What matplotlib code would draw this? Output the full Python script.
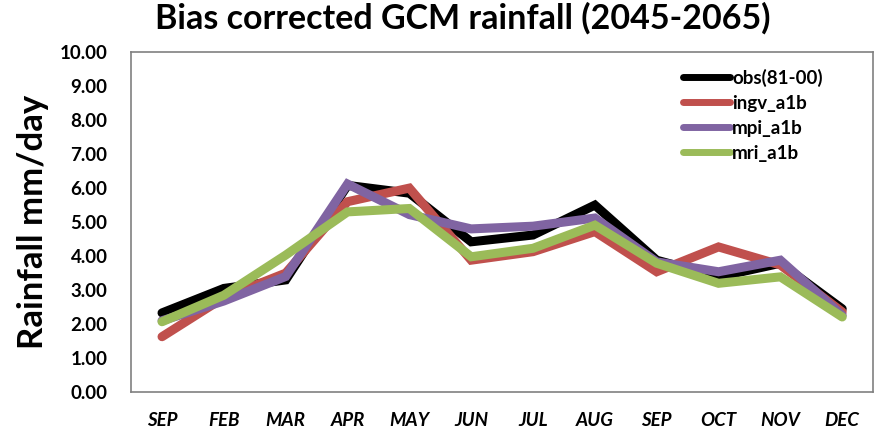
import matplotlib
matplotlib.use("Agg")
import matplotlib.pyplot as plt
import numpy as np

months = ["SEP", "FEB", "MAR", "APR", "MAY", "JUN", "JUL", "AUG", "SEP", "OCT", "NOV", "DEC"]

obs = [2.33, 3.05, 3.30, 6.08, 5.85, 4.42, 4.62, 5.50, 3.88, 3.39, 3.79, 2.45]
ingv_a1b = [1.63, 2.78, 3.50, 5.60, 6.00, 3.88, 4.13, 4.72, 3.54, 4.27, 3.74, 2.36]
mpi_a1b = [2.10, 2.68, 3.40, 6.12, 5.22, 4.80, 4.88, 5.12, 3.83, 3.54, 3.88, 2.26]
mri_a1b = [2.07, 2.85, 4.03, 5.30, 5.40, 3.98, 4.23, 4.91, 3.79, 3.20, 3.39, 2.21]

series = [
    ("obs(81-00)", obs, "#000000"),
    ("ingv_a1b", ingv_a1b, "#C0504D"),
    ("mpi_a1b", mpi_a1b, "#8064A2"),
    ("mri_a1b", mri_a1b, "#9BBB59"),
]

plt.rcParams["font.family"] = ["Lato", "DejaVu Sans"]

fig = plt.figure(figsize=(8.74, 4.30), dpi=100)
ax = fig.add_axes([0.150, 0.088, 0.849, 0.791])

x = np.arange(len(months))
for name, values, color in series:
    ax.plot(x, values, color=color, lw=6.5, solid_capstyle="round",
            solid_joinstyle="miter", label=name)

ax.set_xlim(-0.5, len(months) - 0.5)
ax.set_ylim(0, 10)
ax.set_yticks(np.arange(0, 11, 1))
ax.set_yticklabels([f"{v:.2f}" for v in np.arange(0, 11, 1)],
                   fontsize=13.5, fontweight="bold")
ax.set_xticks(x)
ax.set_xticklabels(months, fontsize=13.5, fontweight="bold", style="italic")
ax.tick_params(axis="both", length=0)
ax.tick_params(axis="y", pad=17)
ax.tick_params(axis="x", pad=14)

for spine in ax.spines.values():
    spine.set_color("#808080")
    spine.set_linewidth(1.2)

ax.set_ylabel("Rainfall mm/day", fontsize=25, fontweight="bold", labelpad=8)
fig.text(0.530, 0.995, "Bias corrected GCM rainfall (2045-2065)",
         ha="center", va="top", fontsize=24.5, fontweight="bold")

leg = ax.legend(loc="upper right", bbox_to_anchor=(0.955, 1.0), frameon=False,
                prop={"size": 13.5, "weight": "bold"}, handlelength=2.5,
                handletextpad=0.1, labelspacing=0.42)
for line in leg.get_lines():
    line.set_linewidth(5)

fig.savefig("out.png", dpi=100)
